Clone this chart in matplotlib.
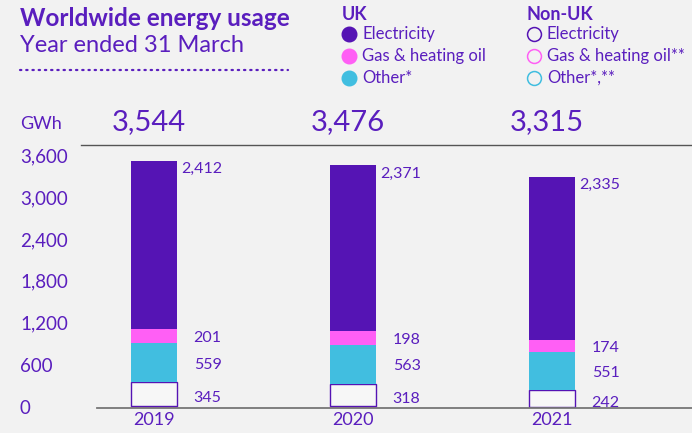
import matplotlib.pyplot as plt
from matplotlib.lines import Line2D
from matplotlib.transforms import blended_transform_factory
import numpy as np

plt.rcParams['font.family'] = ['Lato', 'DejaVu Sans']

years = ['2019', '2020', '2021']
totals = [3544, 3476, 3315]
uk_elec = [2412, 2371, 2335]
uk_gas = [201, 198, 174]
uk_other = [559, 563, 551]
nonuk_elec = [345, 318, 242]
nonuk_gas = [12, 12, 6]
nonuk_other = [15, 14, 7]
yticks = [0, 600, 1200, 1800, 2400, 3000, 3600]

PURPLE = '#5514b4'
TEXT = '#5a1ebe'
PINK = '#ff5ff5'
CYAN = '#41bee0'
BG = '#f2f2f2'

fig = plt.figure(figsize=(6.92, 4.33), dpi=100, facecolor=BG)
W, H = 692, 433


def fx(px):
    return px / W


def fy(py):
    return 1 - py / H


# axes: x from 97px to right edge, baseline at y=408, top at y=145
ax = fig.add_axes([fx(97), fy(408), 1 - fx(97), fy(145) - fy(408)])
ax.set_facecolor(BG)
ax.set_ylim(0, (408 - 145) / 0.0698)
ax.set_xlim((97 - 154) / 199, (692 - 154) / 199)
for s in ax.spines.values():
    s.set_visible(False)
ax.set_xticks([])
ax.set_yticks([])

x = np.arange(len(years))
bw = 46 / 199

bottom = np.zeros(len(years))
# non-UK (hollow)
for vals, ec in [(nonuk_other, CYAN), (nonuk_gas, PINK), (nonuk_elec, PURPLE)]:
    ax.bar(x, vals, bw, bottom=bottom, facecolor='#f7f7f7', edgecolor=ec, linewidth=1.0)
    bottom += np.array(vals)
nonuk_mid = bottom - np.array(nonuk_elec) / 2
# UK (filled)
mids = []
for vals, c in [(uk_other, CYAN), (uk_gas, PINK), (uk_elec, PURPLE)]:
    ax.bar(x, vals, bw, bottom=bottom, color=c, linewidth=0)
    mids.append(bottom + np.array(vals) / 2)
    bottom += np.array(vals)

for i in range(len(years)):
    xr = x[i] + bw / 2
    ax.annotate(f'{uk_elec[i]:,}', (xr, bottom[i]), xytext=(3, -6), textcoords='offset points',
                ha='left', va='center', color=TEXT, fontsize=11.5)
    ax.annotate(f'{uk_gas[i]:,}', (xr, mids[1][i]), xytext=(12, -1.5), textcoords='offset points',
                ha='left', va='center', color=TEXT, fontsize=11.5)
    ax.annotate(f'{uk_other[i]:,}', (xr, mids[0][i]), xytext=(12, -1.5), textcoords='offset points',
                ha='left', va='center', color=TEXT, fontsize=11.5)
    ax.annotate(f'{nonuk_elec[i]:,}', (xr, nonuk_mid[i]), xytext=(12, -3), textcoords='offset points',
                ha='left', va='center', color=TEXT, fontsize=11.5)
    # year labels
    ax.text(x[i], -170, years[i], ha='center', va='center', color=TEXT, fontsize=13, clip_on=False)
    # totals above top line
    ax.text(x[i] - 42 / 199, (408 - 122) / 0.0698, f'{totals[i]:,}', ha='left', va='center',
            color=TEXT, fontsize=21, clip_on=False)

# y tick labels: figure x, data y
tr = blended_transform_factory(fig.transFigure, ax.transData)
for t in yticks:
    ax.text(fx(20), t, f'{t:,}', transform=tr, ha='left', va='center',
            color=TEXT, fontsize=13.5, clip_on=False)

fig.text(fx(20), fy(124), 'GWh', ha='left', va='center', color=TEXT, fontsize=13)

# lines
fig.add_artist(Line2D([fx(81), 1], [fy(145), fy(145)], color='#555555', linewidth=1.0))
fig.add_artist(Line2D([fx(97), 1], [fy(407.5), fy(407.5)], color='#777777', linewidth=1.3))

# title
fig.text(fx(20), fy(19), 'Worldwide energy usage', ha='left', va='center', color=TEXT,
         fontsize=17.5, fontweight='bold')
fig.text(fx(20), fy(45), 'Year ended 31 March', ha='left', va='center', color=TEXT, fontsize=17)
fig.add_artist(Line2D([fx(20), fx(288)], [fy(70), fy(70)], color=TEXT, linewidth=1.6,
                      linestyle=(0, (0.6, 2.2)), dash_capstyle='round'))

# legend
fig.text(fx(342), fy(15), 'UK', ha='left', va='center', color=TEXT, fontsize=13, fontweight='bold')
fig.text(fx(527), fy(15), 'Non-UK', ha='left', va='center', color=TEXT, fontsize=13, fontweight='bold')
rows = [('Electricity', PURPLE, 'Electricity'), ('Gas & heating oil', PINK, 'Gas & heating oil**'),
        ('Other*', CYAN, 'Other*,**')]
for j, (lab, c, lab2) in enumerate(rows):
    yy = fy(34 + 22 * j)
    fig.add_artist(Line2D([fx(349)], [yy], marker='o', markersize=10.5, color=c, linestyle='none'))
    fig.text(fx(362), yy, lab, ha='left', va='center', color=TEXT, fontsize=12)
    fig.add_artist(Line2D([fx(534)], [yy], marker='o', markersize=10, markerfacecolor='none',
                          markeredgecolor=c, markeredgewidth=1.1, linestyle='none'))
    fig.text(fx(547), yy, lab2, ha='left', va='center', color=TEXT, fontsize=12)

fig.savefig('out.png', dpi=100, facecolor=BG)
